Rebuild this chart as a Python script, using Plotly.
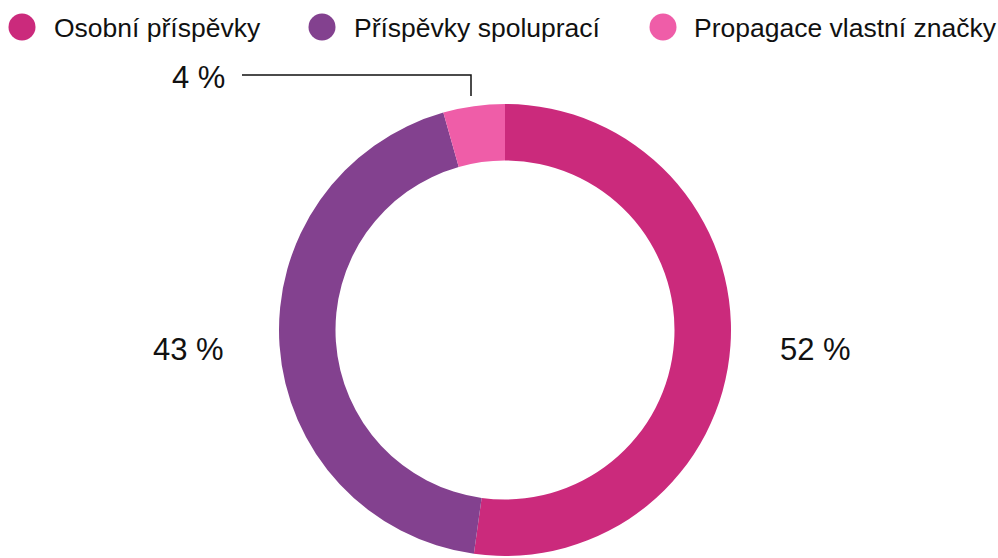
import plotly.graph_objects as go

categories = ["Osobní příspěvky", "Příspěvky spoluprací", "Propagace vlastní značky"]
values = [52.2, 43.4, 4.4]
colors = ["#CB2A7C", "#83418F", "#EF5DA8"]
label_texts = [f"{round(v)} %" for v in values]

W, H = 998, 558
FONT = "Liberation Sans, Arial, Helvetica, sans-serif"

def px(x):
    return x / W

def py(y):
    return 1 - y / H

fig = go.Figure()
fig.add_trace(go.Pie(
    labels=categories,
    values=values,
    marker=dict(colors=colors, line=dict(width=0)),
    hole=0.75,
    sort=False,
    direction="clockwise",
    rotation=0,
    textinfo="none",
    hoverinfo="label",
    showlegend=False,
    domain=dict(x=[px(505 - 226), px(505 + 226)], y=[py(556), py(104)]),
))

annotations = []
shapes = []

# Custom legend (large round markers)
legend_circle_x = [22, 322, 663]
legend_text_x = [52, 352, 692]
legend_y = 27
for cat, col, cx, tx in zip(categories, colors, legend_circle_x, legend_text_x):
    shapes.append(dict(
        type="circle", xref="paper", yref="paper",
        xsizemode="pixel", ysizemode="pixel",
        xanchor=px(cx), yanchor=py(legend_y),
        x0=-13.5, x1=13.5, y0=-13.5, y1=13.5,
        fillcolor=col, line=dict(width=0),
    ))
    annotations.append(dict(
        text=cat, xref="paper", yref="paper", x=px(tx), y=py(legend_y + 1),
        xanchor="left", yanchor="middle", showarrow=False,
        font=dict(family=FONT, size=26.5, color="#111111"),
    ))

# Slice value labels
label_pos = [(815, 349, "center"), (188, 349, "center"), (227, 77, "right")]
for txt, (lx, ly, anc) in zip(label_texts, label_pos):
    annotations.append(dict(
        text=txt, xref="paper", yref="paper", x=px(lx), y=py(ly),
        xanchor=anc, yanchor="middle", showarrow=False,
        font=dict(family=FONT, size=31, color="#111111"),
    ))

# Leader line for the small slice
shapes.append(dict(
    type="path", xref="paper", yref="paper",
    path=f"M {px(242)} {py(75)} L {px(471)} {py(75)} L {px(471)} {py(96)}",
    line=dict(color="#111111", width=1.5),
))

fig.update_layout(
    width=W, height=H,
    margin=dict(l=0, r=0, t=0, b=0),
    paper_bgcolor="white",
    plot_bgcolor="white",
    showlegend=False,
    annotations=annotations,
    shapes=shapes,
)

fig.write_html(
    "out.html",
    config={"displayModeBar": False},
    post_script="document.body.style.margin='0';document.body.style.padding='0';",
)
